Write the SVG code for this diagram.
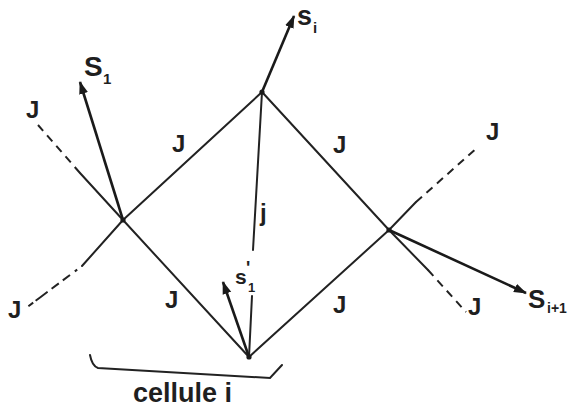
<svg xmlns="http://www.w3.org/2000/svg" width="572" height="410" viewBox="0 0 572 410">
<style>
.ln{stroke:#222;stroke-width:2;fill:none;stroke-linecap:round}
.ds{stroke:#222;stroke-width:2;fill:none;stroke-dasharray:8,6}
.dd{stroke:#222;stroke-width:2;fill:none;stroke-dasharray:0,6,3,6,9,5,9,5,9}
.ar{stroke:#1a1a1a;stroke-width:2.6;fill:none}
.t{font-family:"Liberation Sans",Arial,sans-serif;fill:#1f1f1f;font-weight:bold}
.dot{fill:#1a1a1a}
</style>
<defs>
<marker id="ah" markerUnits="userSpaceOnUse" markerWidth="14" markerHeight="10" refX="12" refY="5" orient="auto">
<path d="M0,0.5 L13,5 L0,9.5 z" fill="#1a1a1a"/>
</marker>
</defs>
<g id="connectors">
<line class="ln" x1="123" y1="220" x2="262" y2="92"/>
<line class="ln" x1="262" y1="92" x2="389" y2="230"/>
<line class="ln" x1="389" y1="230" x2="249" y2="357"/>
<line class="ln" x1="123" y1="220" x2="249" y2="357"/>
<line class="ln" x1="262" y1="92" x2="253" y2="250"/>
<line class="ln" x1="252" y1="296" x2="249" y2="357"/>
<line class="ln" x1="123" y1="220" x2="80" y2="173"/>
<line class="ds" x1="80" y1="173" x2="38" y2="125"/>
<line class="ln" x1="123" y1="220" x2="82" y2="266"/>
<line class="dd" x1="82" y1="266" x2="26" y2="308"/>
<line class="ln" x1="389" y1="230" x2="416" y2="202"/>
<line class="ds" x1="416" y1="202" x2="478" y2="147"/>
<line class="ln" x1="389" y1="230" x2="428" y2="270"/>
<line class="ds" x1="428" y1="270" x2="466" y2="312"/>
<line class="ar" x1="123" y1="220" x2="80" y2="82" marker-end="url(#ah)"/>
<line class="ar" x1="262" y1="92" x2="294" y2="16" marker-end="url(#ah)"/>
<line class="ar" x1="249" y1="357" x2="223" y2="282" marker-end="url(#ah)"/>
<line class="ar" x1="389" y1="230" x2="526" y2="293" marker-end="url(#ah)"/>
<path class="ln" d="M90,355 Q92,366 98,368 L270,378 L282,365" stroke-width="2.4"/>
</g>
<g id="node-left"><circle class="dot" cx="123" cy="220" r="2.6"/></g>
<g id="node-top"><circle class="dot" cx="262" cy="92" r="2.6"/></g>
<g id="node-right"><circle class="dot" cx="389" cy="230" r="2.6"/></g>
<g id="node-bottom"><circle class="dot" cx="249" cy="357" r="2.6"/></g>
<g id="labels">
<text class="t" x="84" y="76" font-size="28">S</text>
<text class="t" x="103" y="84" font-size="15">1</text>
<text class="t" x="297" y="25" font-size="27">s</text>
<text class="t" x="313" y="33" font-size="15">i</text>
<text class="t" x="235" y="284" font-size="21">s</text>
<text class="t" x="246" y="274" font-size="18">'</text>
<text class="t" x="248" y="292" font-size="13">1</text>
<text class="t" x="528" y="308" font-size="26">S</text>
<text class="t" x="547" y="313" font-size="14">i+1</text>
<text class="t" x="260" y="221" font-size="24">j</text>
<text class="t" x="172" y="152" font-size="24">J</text>
<text class="t" x="333" y="153" font-size="24">J</text>
<text class="t" x="165" y="308" font-size="24">J</text>
<text class="t" x="333" y="313" font-size="24">J</text>
<text class="t" x="26" y="118" font-size="24">J</text>
<text class="t" x="8" y="318" font-size="24">J</text>
<text class="t" x="486" y="140" font-size="24">J</text>
<text class="t" x="468" y="315" font-size="24">J</text>
<text class="t" x="133" y="402" font-size="27">cellule i</text>
</g>
</svg>
